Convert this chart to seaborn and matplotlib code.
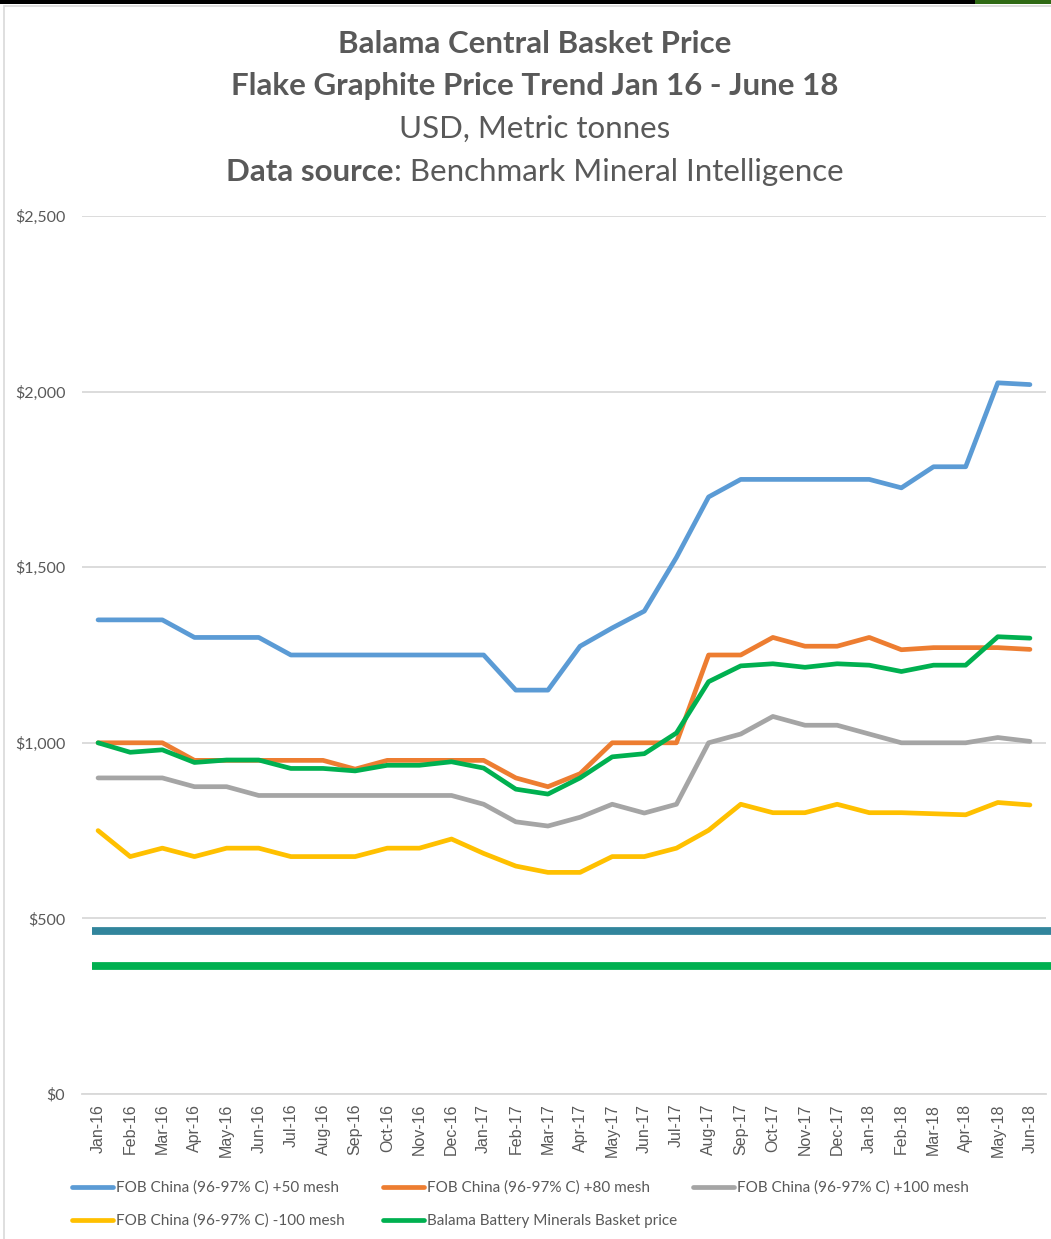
import numpy as np
import pandas as pd
import matplotlib
matplotlib.use("Agg")
import matplotlib.pyplot as plt
from matplotlib.lines import Line2D
from matplotlib.patches import Rectangle
from matplotlib.ticker import FuncFormatter
import seaborn as sns

# data
months = ['Jan-16', 'Feb-16', 'Mar-16', 'Apr-16', 'May-16', 'Jun-16', 'Jul-16', 'Aug-16',
          'Sep-16', 'Oct-16', 'Nov-16', 'Dec-16', 'Jan-17', 'Feb-17', 'Mar-17', 'Apr-17',
          'May-17', 'Jun-17', 'Jul-17', 'Aug-17', 'Sep-17', 'Oct-17', 'Nov-17', 'Dec-17',
          'Jan-18', 'Feb-18', 'Mar-18', 'Apr-18', 'May-18', 'Jun-18']

mesh_50 = [1350, 1350, 1350, 1300, 1300, 1300, 1250, 1250, 1250, 1250, 1250, 1250, 1250, 1150, 1150,
           1275, 1327, 1375, 1528, 1700, 1750, 1750, 1750, 1750, 1750, 1726, 1786, 1786, 2025, 2020]
mesh_80 = [1000, 1000, 1000, 950, 950, 950, 950, 950, 925, 950, 950, 950, 950, 900, 875,
           912, 1000, 1000, 1000, 1250, 1250, 1300, 1275, 1275, 1300, 1265, 1271, 1271, 1271, 1266]
mesh_100 = [900, 900, 900, 875, 875, 850, 850, 850, 850, 850, 850, 850, 825, 775, 763,
            788, 825, 800, 825, 1000, 1025, 1075, 1050, 1050, 1025, 1000, 1000, 1000, 1015, 1004]
minus_100 = [750, 676, 700, 676, 700, 700, 676, 676, 676, 700, 700, 726, 685, 649, 631,
             631, 676, 676, 700, 751, 825, 801, 801, 825, 801, 801, 798, 795, 830, 823]
basket = [1000, 973, 980, 944, 951, 951, 927, 927, 920, 936, 936, 946, 928, 868, 854,
          900, 960, 969, 1028, 1174, 1219, 1225, 1215, 1225, 1221, 1203, 1221, 1221, 1302, 1298]

series_names = ['FOB China (96-97% C) +50 mesh', 'FOB China (96-97% C) +80 mesh',
                'FOB China (96-97% C) +100 mesh', 'FOB China (96-97% C) -100 mesh',
                'Balama Battery Minerals Basket price']
series_colors = ['#5B9BD5', '#ED7D31', '#A5A5A5', '#FFC000', '#00B050']

ref_levels = [465, 365]
ref_colors = ['#31859C', '#00B050']

##''
df = pd.DataFrame({'idx': range(len(months)),
                   series_names[0]: mesh_50,
                   series_names[1]: mesh_80,
                   series_names[2]: mesh_100,
                   series_names[3]: minus_100,
                   series_names[4]: basket})
long_df = df.melt(id_vars='idx', var_name='series', value_name='price')

sns.set_style('white')
plt.rcParams['font.family'] = ['Lato', 'DejaVu Sans']
grey_txt = '#595959'
grid_col = '#D9D9D9'

W, H = 1051, 1239
fig = plt.figure(figsize=(W / 100, H / 100), dpi=100)
ax = fig.add_axes([82 / W, 1 - 1094 / H, (1046 - 82) / W, (1094 - 216) / H])

sns.lineplot(data=long_df, x='idx', y='price', hue='series', hue_order=series_names,
             palette=dict(zip(series_names, series_colors)), linewidth=3.4,
             sort=False, legend=False, ax=ax)

# flat reference bands that run to the picture edge
ax.hlines(ref_levels, -0.2, 29.7, colors=ref_colors, linewidth=5.6, clip_on=False, zorder=3)

ax.set_xlim(-0.5, 29.5)
ax.set_ylim(0, 2500)
ax.set_yticks(np.arange(0, 2501, 500))
ax.yaxis.set_major_formatter(FuncFormatter(lambda v, p: '${:,.0f}'.format(v)))
ax.set_xticks(range(len(months)))
ax.set_xticklabels(months, rotation=90, family='Liberation Sans', fontsize=11.5, color=grey_txt)
ax.set_xticks(np.arange(-0.5, len(months), 1), minor=True)
ax.tick_params(axis='x', which='major', length=0, pad=7)
ax.tick_params(axis='x', which='minor', length=4, width=1, color=grid_col, direction='out')
ax.tick_params(axis='y', length=0, pad=12, labelsize=11.5, labelcolor=grey_txt)
ax.set_xlabel('')
ax.set_ylabel('')
ax.yaxis.grid(True, color=grid_col, linewidth=1.3)
for side in ['top', 'right', 'left']:
    ax.spines[side].set_visible(False)
ax.spines['bottom'].set_color(grid_col)
ax.spines['bottom'].set_linewidth(1.3)

# titles
cx = 535 / W
tsize = 22.5
fig.text(cx, 1 - 44 / H, 'Balama Central Basket Price', ha='center', va='center',
         fontsize=tsize, fontweight='bold', color=grey_txt)
fig.text(cx, 1 - 86 / H, 'Flake Graphite Price Trend Jan 16 - June 18', ha='center', va='center',
         fontsize=tsize, fontweight='bold', color=grey_txt)
fig.text(cx, 1 - 129 / H, 'USD, Metric tonnes', ha='center', va='center',
         fontsize=tsize, color=grey_txt)
t_bold = fig.text(0, 1 - 172 / H, 'Data source', ha='left', va='center',
                  fontsize=tsize, fontweight='bold', color=grey_txt)
t_reg = fig.text(0, 1 - 172 / H, ': Benchmark Mineral Intelligence', ha='left', va='center',
                 fontsize=tsize, color=grey_txt)
rend = fig.canvas.get_renderer()
wb = t_bold.get_window_extent(rend).width / W
wr = t_reg.get_window_extent(rend).width / W
x0 = cx - (wb + wr) / 2
t_bold.set_x(x0)
t_reg.set_x(x0 + wb)

# legend, one slot per entry like the original
slots = [(72, 1188), (383, 1188), (693, 1188), (72, 1221), (383, 1221)]
for name, col, (lx, ly) in zip(series_names, series_colors, slots):
    h = Line2D([], [], color=col, linewidth=3.4)
    fig.legend([h], [name], loc='center left', bbox_to_anchor=(lx / W, 1 - ly / H),
               frameon=False, borderpad=0, borderaxespad=0, handlelength=2.7,
               handletextpad=0.15, fontsize=11, labelcolor=grey_txt)

# screenshot frame bits
fig.add_artist(Rectangle((0, 1 - 4 / H), 1, 4 / H, transform=fig.transFigure, color='black', lw=0))
fig.add_artist(Rectangle((975 / W, 1 - 4 / H), 76 / W, 4 / H, transform=fig.transFigure,
                         color='#2F6A14', lw=0))
fig.add_artist(Rectangle((4 / W, -0.01), 1.1, 1 - 6 / H + 0.01, transform=fig.transFigure,
                         fill=False, edgecolor=grid_col, lw=1.2))

fig.savefig('out.png', dpi=100)
